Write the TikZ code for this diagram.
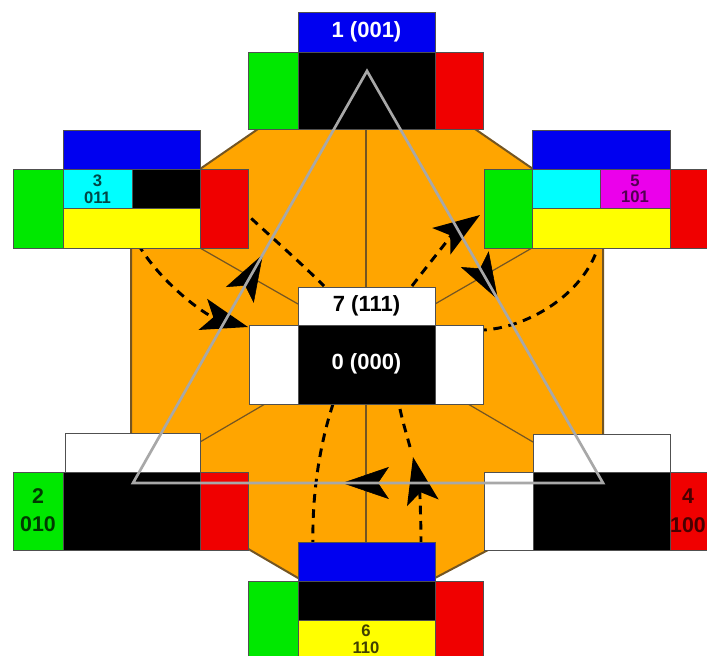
\documentclass[tikz,border=0pt]{standalone}
\usepackage{fontspec}
\setmainfont{Liberation Sans}
\usetikzlibrary{arrows.meta,decorations.markings}

\definecolor{cubeorange}{RGB}{255,165,0}
\definecolor{cubeblue}{RGB}{0,0,240}
\definecolor{cubegreen}{RGB}{0,232,0}
\definecolor{cubered}{RGB}{240,0,0}
\definecolor{cubecyan}{RGB}{0,255,255}
\definecolor{cubemagenta}{RGB}{235,0,235}
\definecolor{cubeyellow}{RGB}{255,255,0}
\definecolor{rim}{RGB}{115,85,35}
\definecolor{facerim}{RGB}{80,80,80}
\definecolor{trigrey}{RGB}{168,168,168}

\tikzset{
  face/.style={draw=facerim, line width=0.6pt},
  spoke/.style={draw=rim, line width=0.9pt},
  flow/.style={draw=black, line width=2.2pt, dash pattern=on 6.5pt off 5pt},
  bigtip/.tip={Stealth[length=35pt,width=24pt,inset=8pt]},
  trisides/.style={draw=trigrey, line width=2pt, line join=miter},
  midhead/.style={decoration={markings, mark=at position 0.555 with {\arrow{bigtip}}}, decorate},
  biglab/.style={font=\fontsize{16.5}{18}\selectfont\bfseries, inner sep=0pt},
  smalllab/.style={font=\fontsize{12.5}{12.5}\selectfont\bfseries, align=center, inner sep=0pt},
  midlab/.style={font=\fontsize{16}{21.5}\selectfont\bfseries, align=center, inner sep=0pt}
}

% one coloured face of a cube net: corners (x1,y1), (x2,y2), fill colour
\newcommand\cubeface[5]{\path[face,fill=#5] (#1,#2) rectangle (#3,#4);}

\begin{document}
\begin{tikzpicture}[x=0.75pt,y=-0.75pt]
\useasboundingbox (0,0) rectangle (707,656);
\begin{scope}
\clip (0,0) rectangle (707,656);

% orange octagon in the middle
\path[fill=cubeorange, draw=rim, line width=1.5pt]
  (258,129) -- (475,129) -- (533,169) -- (603,169) -- (603,472) -- (488,550)
  -- (435,578) -- (298,578) -- (250,550) -- (131,472) -- (131,169) -- (200,169) -- cycle;

% thin spokes from the centre to the outer blocks
\draw[spoke] (366,129) -- (366,287);
\draw[spoke] (366,404) -- (366,542);
\draw[spoke] (200,248) -- (298,304);
\draw[spoke] (532,248) -- (435,304);
\draw[spoke] (265,404) -- (200,442);
\draw[spoke] (468,404) -- (533,442);

% dashed transitions
\coordinate (a3) at (138,244);   \coordinate (a0) at (248,327);
\coordinate (b3) at (240,208);   \coordinate (b7) at (324,286);
\coordinate (c7) at (412,286);   \coordinate (c5) at (480,215);
\coordinate (e5) at (600,240);   \coordinate (e0) at (484,330);
\coordinate (f0) at (333,404);   \coordinate (f6) at (313,545);
\coordinate (d6) at (421,545);   \coordinate (dm) at (413,457);
\coordinate (dn) at (410,447);   \coordinate (d0) at (399,404);

\draw[flow, -bigtip] (a3) .. controls (160,282) and (205,315) .. (a0);
\draw[flow] (b3) .. controls (270,236) and (300,262) .. (b7);
\draw[flow, -bigtip] (c7) .. controls (430,262) and (455,232) .. (c5);
\draw[flow] (e5) .. controls (588,292) and (530,327) .. (e0);
\draw[flow] (f0) .. controls (318,450) and (312,500) .. (f6);
\draw[flow, -bigtip] (d6) .. controls (421,510) and (419,485) .. (dm);
\draw[flow] (dn) .. controls (406,432) and (402,420) .. (d0);

% block 1 (top)
\cubeface{298}{12}{435}{52}{cubeblue}
\cubeface{248}{52}{298}{129}{cubegreen}
\cubeface{298}{52}{435}{129}{black}
\cubeface{435}{52}{483}{129}{cubered}
\node[biglab, text=white] (n1) at (366.5,32) {1 (001)};

% block 3 (upper left)
\cubeface{63}{130}{200}{169}{cubeblue}
\cubeface{13}{169}{63}{248}{cubegreen}
\cubeface{63}{169}{132}{208}{cubecyan}
\cubeface{132}{169}{200}{208}{black}
\cubeface{63}{208}{200}{248}{cubeyellow}
\cubeface{200}{169}{248}{248}{cubered}
\node[smalllab, text=cubecyan!28!black] (n3) at (97.5,189) {3\\011};

% block 5 (upper right)
\cubeface{532}{130}{670}{169}{cubeblue}
\cubeface{484}{169}{532}{248}{cubegreen}
\cubeface{532}{169}{600}{208}{cubecyan}
\cubeface{600}{169}{670}{208}{cubemagenta}
\cubeface{532}{208}{670}{248}{cubeyellow}
\cubeface{670}{169}{718}{248}{cubered}
\node[smalllab, text=cubemagenta!35!black] (n5) at (635,189) {5\\101};

% block 7 / 0 (centre)
\cubeface{298}{287}{435}{325}{white}
\cubeface{249}{325}{298}{404}{white}
\cubeface{298}{325}{435}{404}{black}
\cubeface{435}{325}{483}{404}{white}
\node[biglab, text=black] (n7) at (366.5,306) {7 (111)};
\node[biglab, text=white] (n0) at (366.5,364) {0 (000)};

% block 2 (lower left)
\cubeface{65}{433}{200}{472}{white}
\cubeface{13}{472}{63}{550}{cubegreen}
\cubeface{63}{472}{200}{550}{black}
\cubeface{200}{472}{248}{550}{cubered}
\node[midlab, text=cubegreen!25!black] (n2) at (38,510) {2\\010};

% block 4 (lower right)
\cubeface{533}{434}{670}{472}{white}
\cubeface{484}{472}{533}{550}{white}
\cubeface{533}{472}{670}{550}{black}
\cubeface{670}{472}{718}{550}{cubered}
\node[midlab, text=cubered!30!black] (n4) at (688,511) {4\\100};

% block 6 (bottom)
\cubeface{298}{542}{435}{581}{cubeblue}
\cubeface{248}{581}{298}{660}{cubegreen}
\cubeface{298}{581}{435}{620}{black}
\cubeface{298}{620}{435}{660}{cubeyellow}
\cubeface{435}{581}{483}{660}{cubered}
\node[smalllab, text=cubeyellow!25!black] (n6) at (366,639) {6\\110};

% grey cycle triangle with its direction marks
\coordinate (tA) at (367,71);
\coordinate (tL) at (133,483);
\coordinate (tR) at (603,483);
\path[midhead] (tL) -- (tA);
\path[midhead] (tA) -- (tR);
\path[midhead] (tR) -- (tL);
\draw[trisides] (tA) -- (tR) -- (tL) -- cycle;
\end{scope}
\end{tikzpicture}
\end{document}
